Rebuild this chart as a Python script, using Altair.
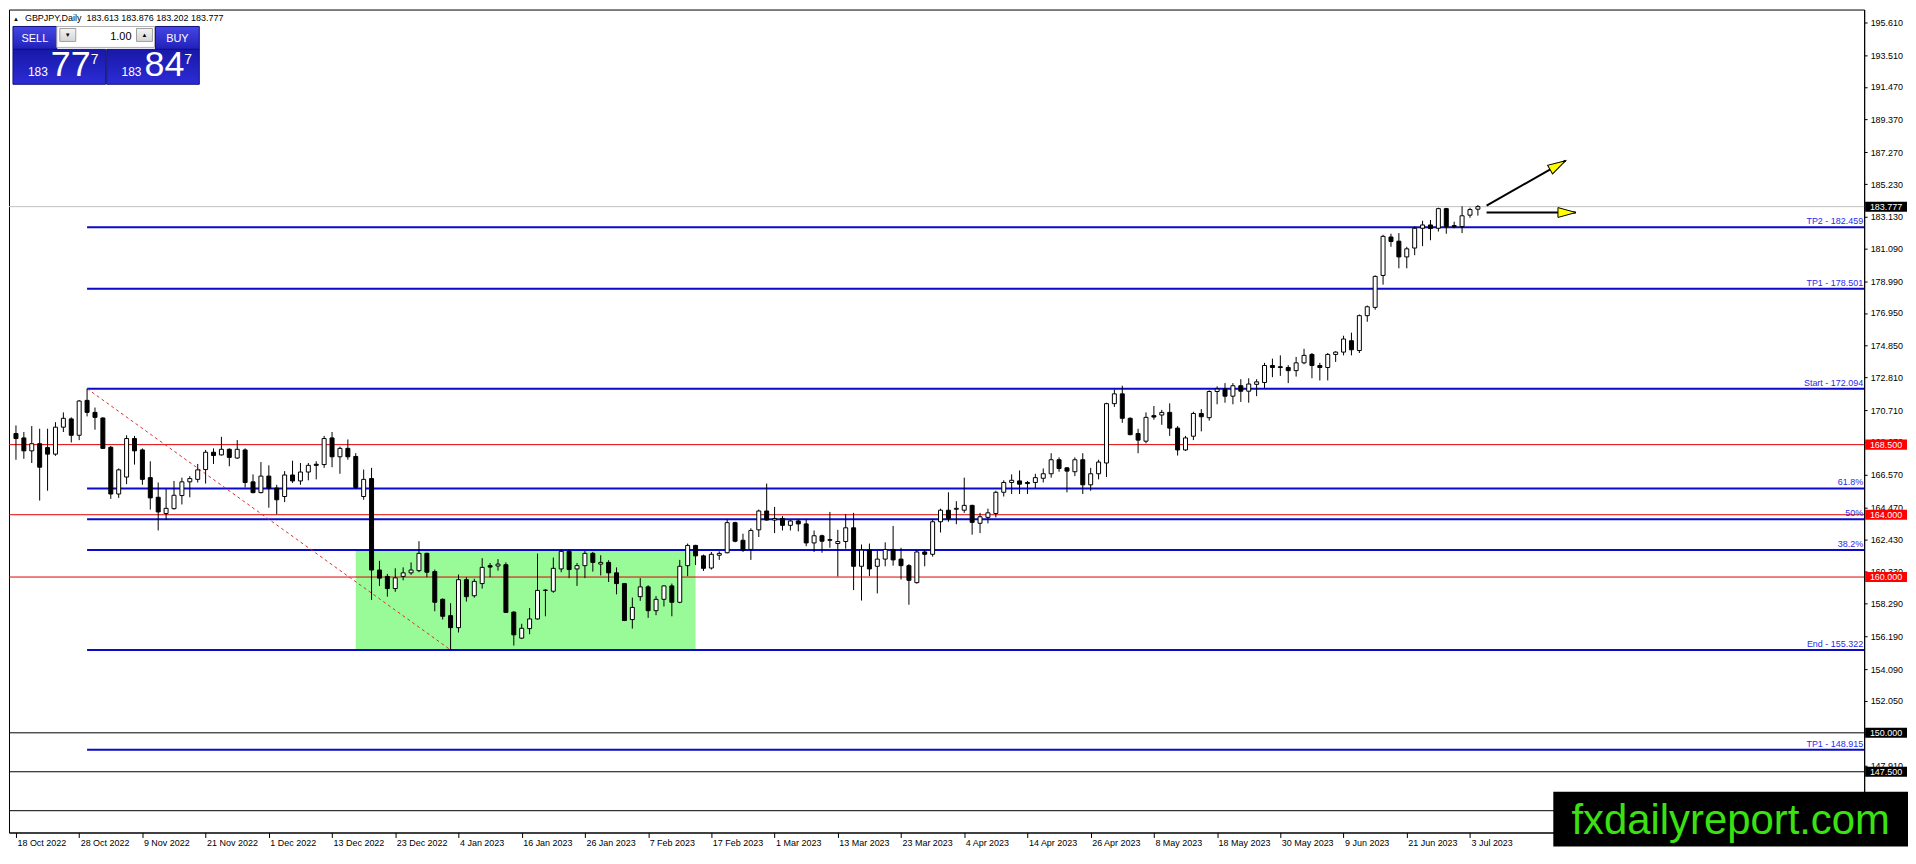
import json
import altair as alt
import pandas as pd

# daily bars, 18 Oct 2022 .. 4 Jul 2023 (weekdays only, as on the MT4 chart)
dates = pd.bdate_range("2022-10-18", "2023-07-04")

opens = [
    169.21, 168.93, 168.10, 168.56, 168.31, 167.89, 169.62, 170.15, 169.10, 171.34,
    170.57, 170.21, 168.33, 165.33, 166.42, 168.89, 168.16, 166.38, 165.12, 164.08,
    164.39, 165.23, 166.11, 166.27, 166.90, 168.01, 167.84, 168.20, 167.64, 168.16,
    166.11, 165.42, 166.48, 165.71, 165.17, 166.55, 166.17, 166.74, 167.24, 167.22,
    168.93, 167.72, 168.26, 167.74, 165.17, 166.32, 160.45, 160.04, 159.26, 160.04,
    160.27, 160.41, 161.52, 160.35, 158.57, 157.52, 156.75, 159.83, 158.80, 159.58,
    160.73, 160.71, 160.79, 157.75, 156.08, 156.69, 157.31, 159.14, 159.09, 160.52,
    161.65, 160.52, 160.73, 161.52, 160.83, 160.94, 160.27, 159.58, 157.27, 158.74,
    159.37, 157.84, 158.57, 159.43, 158.38, 160.73, 162.03, 161.36, 160.58, 161.40,
    161.56, 163.49, 162.36, 161.77, 163.03, 164.24, 163.66, 163.76, 163.32, 163.60,
    163.41, 162.19, 162.65, 162.40, 162.15, 162.28, 163.16, 160.69, 161.73, 160.69,
    161.15, 161.77, 161.15, 160.73, 159.64, 161.61, 161.46, 163.55, 164.29, 164.35,
    164.29, 164.60, 163.45, 163.83, 164.08, 165.44, 166.07, 166.17, 166.07, 166.07,
    166.34, 166.63, 167.53, 167.01, 166.76, 167.53, 165.92, 166.63, 167.32, 171.13,
    171.76, 170.19, 169.21, 168.72, 170.36, 170.40, 170.57, 169.56, 168.16, 169.04,
    170.50, 170.23, 171.91, 172.07, 171.61, 172.28, 171.93, 172.37, 172.49, 173.58,
    173.50, 173.45, 173.25, 173.75, 174.29, 173.58, 173.45, 174.29, 174.44, 175.17,
    174.54, 176.78, 177.31, 179.36, 181.83, 181.56, 180.55, 181.12, 182.39, 182.60,
    182.39, 183.65, 182.56, 182.50, 183.23, 183.613,
]
highs = [
    169.73, 169.31, 169.69, 169.52, 169.52, 169.94, 170.57, 170.25, 171.36, 172.094,
    170.88, 170.25, 168.41, 166.97, 169.10, 169.06, 168.26, 167.43, 166.07, 165.65,
    166.17, 166.38, 166.48, 167.26, 168.16, 168.26, 169.00, 168.26, 168.79, 168.26,
    166.59, 167.38, 167.17, 165.92, 166.80, 167.47, 167.32, 167.32, 167.43, 169.06,
    169.31, 168.37, 168.83, 167.95, 166.90, 167.01, 161.04, 160.20, 160.56, 160.62,
    160.94, 162.30, 161.56, 160.48, 158.63, 158.32, 160.16, 159.99, 159.89, 161.21,
    160.90, 161.15, 160.94, 157.80, 157.00, 158.01, 161.50, 159.22, 161.25, 161.77,
    161.77, 160.90, 161.67, 161.61, 161.40, 161.08, 160.62, 159.62, 158.68, 159.93,
    159.47, 158.78, 159.47, 159.58, 161.10, 162.15, 162.07, 161.44, 161.61, 161.65,
    163.70, 163.55, 162.78, 163.13, 164.33, 166.00, 164.50, 163.91, 163.66, 163.70,
    163.70, 162.99, 162.72, 164.18, 163.03, 164.04, 164.12, 162.09, 162.15, 161.67,
    162.23, 163.28, 161.88, 160.83, 161.73, 161.73, 163.70, 164.39, 165.44, 164.87,
    166.38, 164.64, 164.12, 164.39, 165.54, 166.21, 166.59, 166.84, 166.17, 166.63,
    166.97, 167.95, 167.68, 167.05, 167.68, 167.95, 167.01, 167.53, 171.19, 172.03,
    172.28, 170.25, 169.52, 170.57, 170.98, 170.73, 171.15, 169.69, 169.06, 170.61,
    170.78, 171.99, 172.24, 172.45, 172.45, 172.70, 172.76, 172.70, 173.75, 174.02,
    174.23, 173.60, 174.13, 174.65, 174.38, 173.75, 174.38, 174.50, 175.49, 175.69,
    176.85, 177.43, 179.36, 181.97, 182.04, 182.08, 181.20, 182.50, 182.87, 182.92,
    183.71, 183.70, 182.81, 183.80, 183.71, 183.876,
]
lows = [
    167.53, 167.59, 167.32, 164.91, 165.54, 167.78, 169.31, 168.64, 168.79, 170.31,
    169.46, 168.22, 165.02, 165.08, 165.96, 167.22, 165.92, 164.33, 162.99, 163.66,
    164.33, 164.66, 165.12, 166.07, 166.00, 167.26, 167.80, 167.11, 167.59, 165.75,
    165.37, 165.37, 164.45, 164.03, 164.81, 166.04, 165.92, 166.21, 166.27, 167.01,
    167.05, 166.63, 167.53, 165.65, 164.96, 158.53, 159.43, 158.74, 159.05, 159.79,
    160.14, 160.31, 159.99, 157.80, 157.27, 155.322, 156.44, 158.42, 158.68, 159.26,
    159.99, 160.41, 157.69, 155.60, 156.02, 156.33, 157.27, 157.48, 158.99, 160.31,
    159.93, 159.43, 159.93, 160.35, 160.10, 159.68, 158.89, 157.17, 156.69, 158.47,
    157.38, 157.55, 158.11, 157.48, 158.32, 160.06, 160.77, 160.39, 160.48, 161.10,
    161.52, 162.23, 161.61, 161.10, 162.57, 163.62, 162.82, 162.99, 162.99, 162.93,
    161.98, 161.61, 161.56, 161.88, 160.04, 161.82, 159.16, 158.49, 160.06, 158.95,
    160.69, 160.73, 159.85, 158.22, 159.58, 160.69, 161.31, 162.86, 163.55, 163.39,
    164.12, 162.72, 162.82, 163.45, 163.83, 165.17, 165.33, 165.33, 165.33, 165.71,
    166.07, 166.38, 166.76, 165.44, 166.48, 165.33, 165.54, 166.27, 166.42, 170.92,
    169.90, 169.10, 167.95, 168.58, 170.10, 169.77, 169.06, 167.80, 168.10, 168.79,
    169.35, 170.04, 171.09, 171.19, 171.09, 171.24, 171.19, 171.61, 172.14, 172.83,
    172.91, 172.45, 172.87, 173.66, 172.76, 172.62, 172.62, 173.81, 174.23, 174.23,
    174.38, 176.39, 177.16, 178.77, 181.20, 179.82, 179.82, 180.66, 181.24, 181.62,
    182.18, 182.04, 182.39, 182.08, 183.06, 183.202,
]
closes = [
    168.89, 168.10, 168.56, 167.05, 167.89, 169.62, 170.19, 169.10, 171.30, 170.57,
    170.25, 168.26, 165.33, 166.88, 168.89, 168.10, 166.27, 165.08, 164.18, 164.41,
    165.25, 166.11, 166.32, 166.88, 168.01, 167.80, 168.20, 167.68, 168.20, 166.07,
    165.42, 166.48, 165.71, 164.96, 166.55, 166.17, 166.74, 167.17, 167.17, 168.89,
    167.72, 168.26, 167.72, 165.75, 166.27, 160.45, 159.93, 159.26, 159.95, 160.27,
    160.45, 161.52, 160.31, 158.38, 157.48, 156.75, 159.83, 158.74, 159.72, 160.62,
    160.64, 160.83, 157.73, 156.29, 156.71, 157.31, 159.14, 159.16, 160.56, 161.65,
    160.48, 160.73, 161.52, 160.94, 160.94, 160.27, 159.58, 157.21, 158.05, 159.37,
    157.84, 158.57, 159.43, 158.38, 160.69, 162.03, 161.36, 160.56, 161.46, 161.52,
    163.49, 162.30, 161.73, 162.99, 164.24, 163.66, 163.76, 163.32, 163.60, 163.41,
    162.19, 162.65, 162.30, 162.36, 162.28, 163.16, 160.69, 161.73, 160.52, 161.15,
    161.77, 161.10, 160.73, 159.79, 161.61, 161.46, 163.55, 164.29, 163.76, 164.41,
    164.60, 163.51, 163.87, 164.12, 165.44, 166.07, 166.21, 165.96, 166.00, 166.38,
    166.63, 167.53, 166.97, 166.80, 167.53, 165.92, 166.63, 167.38, 171.13, 171.76,
    170.19, 169.14, 168.79, 170.25, 170.27, 170.57, 169.56, 168.16, 168.93, 170.50,
    170.29, 171.91, 172.07, 171.61, 172.28, 171.93, 172.39, 172.53, 173.58, 173.45,
    173.45, 173.25, 173.75, 174.23, 173.58, 173.45, 174.29, 174.44, 175.28, 174.59,
    176.78, 177.35, 179.30, 181.87, 181.54, 180.55, 181.07, 182.39, 182.60, 182.37,
    183.65, 182.50, 182.50, 183.19, 183.59, 183.777,
]

# price axis ticks as MT4 prints them
y_ticks = [195.61, 193.51, 191.47, 189.37, 187.27, 185.23, 183.13, 181.09, 178.99,
           176.95, 174.85, 172.81, 170.71, 168.67, 166.57, 164.47, 162.43, 160.33,
           158.29, 156.19, 154.09, 152.05, 149.95, 147.91, 145.81]

# fibo / target levels (blue), drawn from the swing-high bar
level_price = [182.459, 178.501, 172.094, 165.687, 163.708, 161.729, 155.322, 148.915]
level_text = ["TP2 - 182.459", "TP1 - 178.501", "Start - 172.094", "61.8%", "50%",
              "38.2%", "End - 155.322", "TP1 - 148.915"]
level_from = 9

red_price = [168.5, 164.0, 160.0]
black_price = [150.0, 147.5, 145.0]
last_price = 183.777

# consolidation box and fibo swing
box_from, box_to = 43, 86
box_top, box_bottom = 161.729, 155.322
swing_idx = [9, 55]
swing_price = [172.094, 155.322]

# projection arrows (bar index, price)
arrow_x0 = [186.1, 186.1]
arrow_p0 = [183.84, 183.40]
arrow_x1 = [196.1, 197.4]
arrow_p1 = [186.73, 183.40]

W, H = 1862, 826
FONT = "Liberation Sans"
NARROW = "Liberation Sans Narrow, Liberation Sans, sans-serif"
BLUE = "#0a0ac8"

bars = pd.DataFrame({"i": range(len(dates)), "open": opens, "high": highs,
                     "low": lows, "close": closes})

tick_idx = list(range(0, len(dates), 8))
tick_text = [f"{dates[k].day} {dates[k]:%b %Y}" for k in tick_idx]

xs = alt.Scale(domain=[-0.25, 233.25], nice=False, zero=False)
ys = alt.Scale(domain=[143.60, 196.43], nice=False, zero=False)
xa = alt.Axis(values=tick_idx, labelExpr=json.dumps(tick_text) + "[datum.value / 8]",
              labelAlign="left", labelOffset=1, labelPadding=1, tickSize=5,
              grid=False, title=None, labelBaseline="top")
ya = alt.Axis(orient="right", values=y_ticks, format=".3f", tickSize=3,
              labelPadding=3, grid=False, title=None)


def X(f):
    return alt.X(f, type="quantitative", scale=xs, axis=xa)


def Y(f):
    return alt.Y(f, type="quantitative", scale=ys, axis=ya)


one = pd.DataFrame({"k": [0]})


def box(x0, x1, y0, y1, fill, stroke=None):
    kw = {"fill": fill}
    if stroke:
        kw.update(stroke=stroke, strokeWidth=1)
    return alt.Chart(one).mark_rect(**kw).encode(
        x=alt.value(x0), x2=alt.value(x1), y=alt.value(y0), y2=alt.value(y1))


def txt(s, x, y, size, color="black", align="left", baseline="alphabetic", font=FONT):
    return alt.Chart(one).mark_text(
        text=s, fontSize=size, color=color, align=align, baseline=baseline, font=font
    ).encode(x=alt.value(x), y=alt.value(y))


def grad(c0, c1):
    return alt.LinearGradient(gradient="linear", x1=0, x2=0, y1=0, y2=1,
                              stops=[alt.GradientStop(color=c0, offset=0),
                                     alt.GradientStop(color=c1, offset=1)])


layers = []

# green range box
layers.append(alt.Chart(pd.DataFrame({"a": [box_from], "b": [box_to],
                                      "t": [box_top], "u": [box_bottom]}))
              .mark_rect(color="#98fb98", opacity=1)
              .encode(x=X("a"), x2="b", y=Y("t"), y2="u"))

# horizontal lines
layers.append(alt.Chart(pd.DataFrame({"p": [last_price]}))
              .mark_rule(color="#c0c0c0", strokeWidth=1).encode(y=Y("p")))
layers.append(alt.Chart(pd.DataFrame({"p": red_price}))
              .mark_rule(color="#e00000", strokeWidth=1).encode(y=Y("p")))
layers.append(alt.Chart(pd.DataFrame({"p": black_price}))
              .mark_rule(color="black", strokeWidth=1).encode(y=Y("p")))

levels = pd.DataFrame({"p": level_price, "t": level_text,
                       "s": [level_from] * len(level_price)})
layers.append(alt.Chart(levels).mark_rule(color=BLUE, strokeWidth=2)
              .encode(x=X("s"), x2=alt.value(W), y=Y("p")))
layers.append(alt.Chart(levels).mark_text(align="right", baseline="bottom", dy=-1,
                                          fontSize=9, font=FONT, color="#2a2aee")
              .encode(x=alt.value(W - 1), y=Y("p"), text="t"))

# swing line
layers.append(alt.Chart(pd.DataFrame({"i": swing_idx, "p": swing_price}))
              .mark_line(color="#d83030", strokeWidth=1, strokeDash=[3, 3])
              .encode(x=X("i"), y=Y("p")))

# candles
layers.append(alt.Chart(bars).mark_rule(color="black", strokeWidth=1)
              .encode(x=X("i"), y=Y("low"), y2="high"))
layers.append(alt.Chart(bars).mark_bar(size=4, stroke="black", strokeWidth=1)
              .encode(x=X("i"), y=Y("open"), y2="close",
                      fill=alt.condition(alt.datum.close >= alt.datum.open,
                                         alt.value("white"), alt.value("black"))))

# arrows
arrows = pd.DataFrame({"x0": arrow_x0, "p0": arrow_p0, "x1": arrow_x1, "p1": arrow_p1})
layers.append(alt.Chart(arrows).mark_rule(color="black", strokeWidth=2)
              .encode(x=X("x0"), x2="x1", y=Y("p0"), y2="p1"))
head = "M0,0L-2,-0.55L-2,0.55Z"
layers.append(alt.Chart(arrows.iloc[[0]]).mark_point(
    shape=head, filled=True, fill="#ffff00", stroke="black", strokeWidth=1,
    size=324, angle=330, opacity=1).encode(x=X("x1"), y=Y("p1")))
layers.append(alt.Chart(arrows.iloc[[1]]).mark_point(
    shape=head, filled=True, fill="#ffff00", stroke="black", strokeWidth=1,
    size=324, angle=0, opacity=1).encode(x=X("x1"), y=Y("p1")))

# price tags on the right scale
tag = "M-1,-0.24L1,-0.24L1,0.24L-1,0.24Z"
tags = pd.DataFrame({"p": red_price, "t": [f"{v:.3f}" for v in red_price]})
btags = pd.DataFrame({"p": black_price + [last_price],
                      "t": [f"{v:.3f}" for v in black_price + [last_price]]})
for df, col in ((tags, "#ff0000"), (btags, "black")):
    layers.append(alt.Chart(df).mark_point(shape=tag, filled=True, size=1764,
                                           color=col, opacity=1)
                  .encode(x=alt.value(W + 22), y=Y("p")))
    layers.append(alt.Chart(df).mark_text(color="white", fontSize=9, font=FONT,
                                          baseline="middle")
                  .encode(x=alt.value(W + 22), y=Y("p"), text="t"))

# header and one-click trading panel
layers.append(txt("\u25b2", 4, 11, 6))
layers.append(txt("GBPJPY,Daily\u00a0\u00a0183.613 183.876 183.202 183.777", 16, 11, 9))
layers.append(box(4, 48, 17, 40, grad("#4646e6", "#2020b8"), "#10107a"))
layers.append(box(147, 191, 17, 40, grad("#4646e6", "#2020b8"), "#10107a"))
layers.append(box(48, 146, 17, 38, "white", "#b0b0b0"))
layers.append(box(51, 67, 19, 32, grad("#f4f4f4", "#d4d4d4"), "#a0a0a0"))
layers.append(box(128, 144, 19, 32, grad("#f4f4f4", "#d4d4d4"), "#a0a0a0"))
layers.append(box(4, 97, 40, 75, grad("#1818a8", "#2c2cd6"), "#10107a"))
layers.append(box(98, 191, 40, 75, grad("#1818a8", "#2c2cd6"), "#10107a"))
layers.append(txt("SELL", 26, 33, 11, "white", "center"))
layers.append(txt("BUY", 169, 33, 11, "white", "center"))
layers.append(txt("\u25bc", 59, 28, 6, "black", "center"))
layers.append(txt("\u25b2", 136, 28, 6, "black", "center"))
layers.append(txt("1.00", 123, 31, 11, "black", "right"))
layers.append(txt("183", 19, 67, 12, "white"))
layers.append(txt("77", 42, 67, 36, "white", font=NARROW))
layers.append(txt("7", 82, 55, 14, "white", font=NARROW))
layers.append(txt("183", 113, 67, 12, "white"))
layers.append(txt("84", 136, 67, 36, "white", font=NARROW))
layers.append(txt("7", 176, 55, 14, "white", font=NARROW))

# watermark
layers.append(box(1550, 1906, 785, 840, "black"))
layers.append(txt("fxdailyreport.com", 1728, 827, 42, "#3ae212", "center", font=NARROW))

chart = alt.layer(*layers).properties(
    width=W, height=H, padding=0, background="white"
).configure_view(stroke="black", strokeWidth=1).configure_axis(
    labelFont=FONT, labelFontSize=9, labelColor="black",
    domainColor="black", tickColor="black", domainWidth=1
)

chart.save("out.html", embed_options={"renderer": "svg", "actions": False})
